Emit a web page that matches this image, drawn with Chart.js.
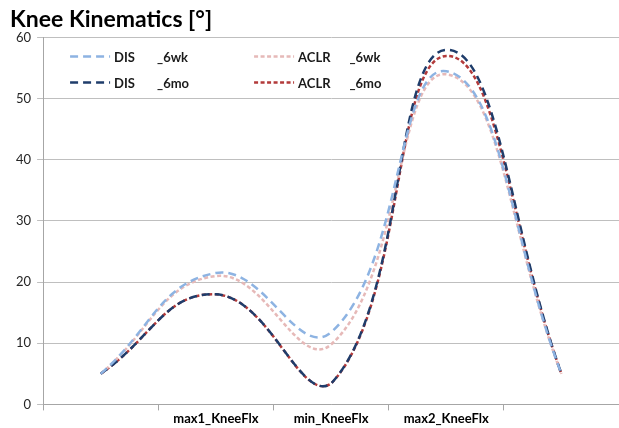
<!DOCTYPE html>
<html>
<head>
<meta charset="utf-8">
<script src="https://cdn.jsdelivr.net/npm/chart.js@4"></script>
<style>
  body { margin: 0; background: #fff; }
  #wrap { width: 619px; height: 428px; position: relative; }
</style>
</head>
<body>
<div id="wrap"><canvas id="kneeChart"></canvas></div>
<script>
//Chart data
const categories = ['', 'max1_KneeFlx', 'min_KneeFlx', 'max2_KneeFlx', ''];
const seriesNames = ['DIS       _6wk', 'DIS       _6mo', 'ACLR      _6wk', 'ACLR      _6mo'];
const dis6wk = [5, 21.5, 11.8, 54.5, 5];
const dis6mo = [5, 18, 3.4, 58, 5];
const aclr6wk = [5, 21, 9.8, 54, 5];
const aclr6mo = [5, 18, 3.4, 57, 5];
const yTicks = [0, 10, 20, 30, 40, 50, 60];

const FONT = 'Lato, "Open Sans", sans-serif';

//Legend drawn inside the plot area, 2 columns
const innerLegend = {
    id: 'innerLegend',
    afterDatasetsDraw(chart) {
        const ctx = chart.ctx;
        const area = chart.chartArea;
        const cols = [area.left + 27, area.left + 211];
        const rows = [area.top + 19, area.top + 45];
        // column-major order: DIS in col 1, ACLR in col 2
        chart.data.datasets.forEach(function(ds, i) {
            const x = cols[Math.floor(i / 2)];
            const y = rows[i % 2];
            ctx.save();
            ctx.strokeStyle = ds.borderColor;
            ctx.lineWidth = ds.borderWidth;
            ctx.setLineDash(ds.borderDash);
            ctx.beginPath();
            ctx.moveTo(x, y);
            ctx.lineTo(x + 40, y);
            ctx.stroke();
            ctx.setLineDash([]);
            ctx.fillStyle = '#1a1a1a';
            ctx.font = 'bold 13px ' + FONT;
            ctx.textBaseline = 'middle';
            ctx.fillText(ds.label, x + 44, y + 1);
            ctx.restore();
        });
    }
};

function makeSet(label, values, color, dash) {
    return {
        label: label,
        data: values,
        borderColor: color,
        backgroundColor: color,
        borderWidth: 2.5,
        borderDash: dash,
        pointRadius: 0,
        fill: false,
        tension: 0.45
    };
}

const ctx = document.getElementById('kneeChart').getContext('2d');
new Chart(ctx, {
    type: 'line',
    data: {
        labels: categories,
        datasets: [
            makeSet(seriesNames[0], dis6wk, '#8db3e2', [8, 5]),
            makeSet(seriesNames[1], dis6mo, '#1f3d6b', [8, 5]),
            makeSet(seriesNames[2], aclr6wk, '#e6b9b8', [4, 2.5]),
            makeSet(seriesNames[3], aclr6mo, '#b23a3a', [4, 2.5])
        ]
    },
    options: {
        responsive: true,
        maintainAspectRatio: false,
        animation: false,
        layout: { padding: { left: 10, right: 0, top: 0, bottom: 0 } },
        scales: {
            x: {
                offset: true,
                grid: {
                    offset: true,
                    drawOnChartArea: false,
                    drawTicks: true,
                    tickLength: 6,
                    color: '#a6a6a6'
                },
                border: { color: '#a6a6a6', width: 1 },
                ticks: {
                    autoSkip: false,
                    maxRotation: 0,
                    padding: 1,
                    color: '#000',
                    font: { family: FONT, size: 13, weight: 'bold' }
                }
            },
            y: {
                min: 0,
                max: 60,
                afterBuildTicks: function(axis) {
                    axis.ticks = yTicks.map(function(v) { return { value: v }; });
                },
                grid: {
                    color: '#bfbfbf',
                    tickLength: 6
                },
                border: { color: '#a6a6a6', width: 1 },
                ticks: {
                    padding: 6,
                    color: '#262626',
                    font: { family: FONT, size: 13 }
                }
            }
        },
        plugins: {
            legend: { display: false },
            tooltip: { enabled: false },
            title: {
                display: true,
                text: 'Knee Kinematics [°]',
                align: 'start',
                color: '#000',
                font: { family: FONT, size: 23, weight: 'bold' },
                padding: { top: 6, bottom: 4 }
            }
        }
    },
    plugins: [innerLegend]
});
</script>
</body>
</html>
